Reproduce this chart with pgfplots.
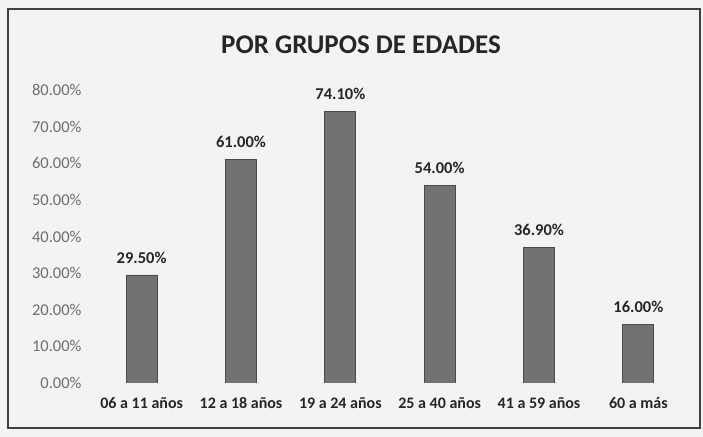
\documentclass[border=0pt]{standalone}
\usepackage{pgfplots}
\pgfplotsset{compat=1.18}
\usepackage{fontspec}
\setmainfont{Carlito}
\definecolor{bg}{HTML}{F3F3F1}
\definecolor{barc}{HTML}{727272}
\definecolor{bare}{HTML}{4A4A4A}
\definecolor{tickc}{HTML}{6E6E6E}
\begin{document}
\begin{tikzpicture}[x=1bp,y=1bp]
\fill[bg] (0,0) rectangle (703,437);
\draw[line width=1.2bp,black!75] (8,9) rectangle (700,428);
\node[font=\fontsize{27bp}{30bp}\selectfont\bfseries, text=black!85] at (361,392) {POR GRUPOS DE EDADES};
\begin{axis}[
  at={(92bp,54bp)}, anchor=south west,
  scale only axis, width=596bp, height=293bp,
  xmin=-0.5, xmax=5.5, ymin=0, ymax=80,
  axis line style={draw=none},
  tick style={draw=none},
  xtick={0,1,2,3,4,5},
  xticklabels={06 a 11 años,12 a 18 años,19 a 24 años,25 a 40 años,41 a 59 años,60 a más},
  x tick label style={font=\fontsize{16bp}{18bp}\selectfont\bfseries, text=black!85, yshift=-7bp},
  ytick={0,10,...,80},
  yticklabel={\pgfmathprintnumber[fixed,fixed zerofill,precision=2]{\tick}\%},
  /pgf/number format/assume math mode=true,
  y tick label style={font=\fontsize{16.5bp}{19bp}\selectfont, text=tickc, xshift=-7bp},
  ybar, bar width=31bp,
  nodes near coords={\pgfmathprintnumber[fixed,fixed zerofill,precision=2]{\pgfplotspointmeta}\%},
  nodes near coords style={font=\fontsize{16.5bp}{18bp}\selectfont\bfseries, text=black!85, yshift=8bp},
]
\addplot[fill=barc, draw=bare, line width=0.8bp] coordinates {(0,29.5) (1,61.0) (2,74.1) (3,54.0) (4,36.9) (5,16.0)};
\end{axis}
\end{tikzpicture}
\end{document}
